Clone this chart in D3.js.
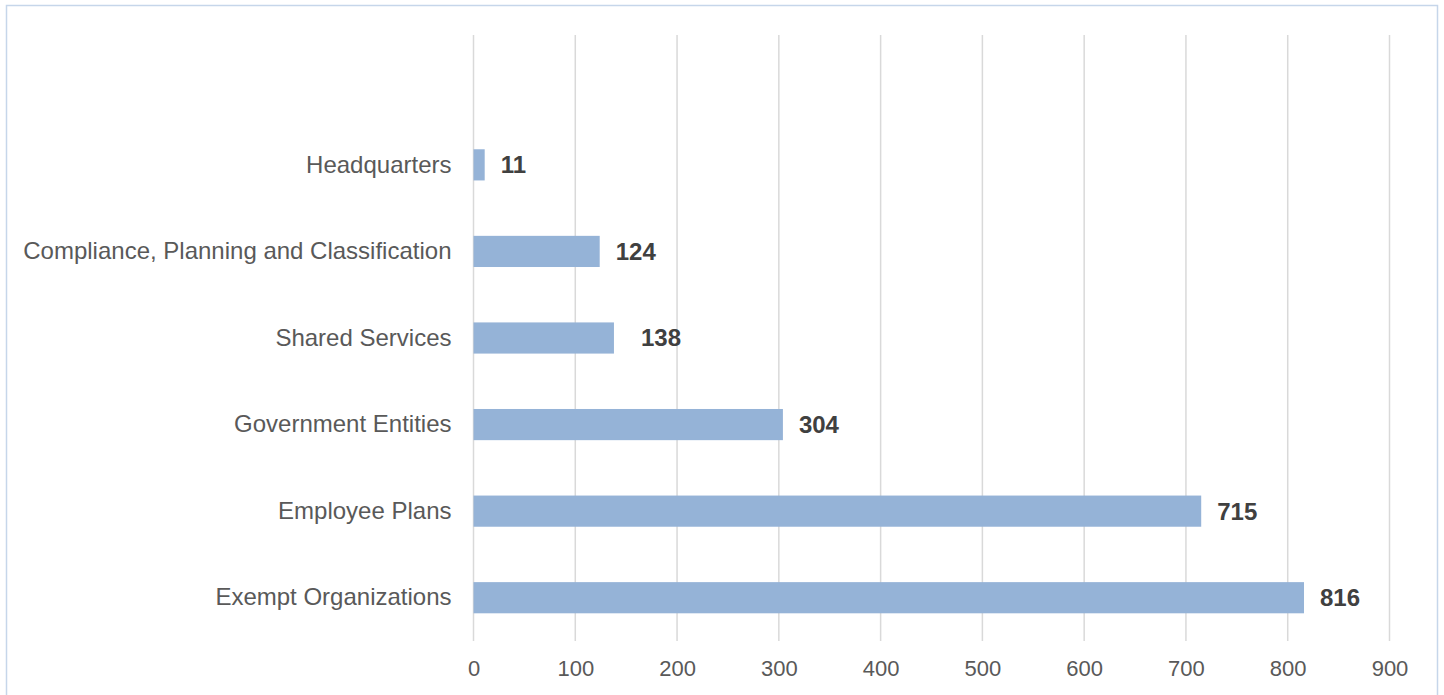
<!DOCTYPE html>
<html>
<head>
<meta charset="utf-8">
<script src="https://cdn.jsdelivr.net/npm/d3@7"></script>
<style>
  html, body { margin: 0; padding: 0; background: #fff; }
  svg { display: block; font-family: "Liberation Sans", Arial, sans-serif; }
</style>
</head>
<body>
<div id="chart"></div>
<script>
// Categories top to bottom and their counts
const categories = [
  'Headquarters',
  'Compliance, Planning and Classification',
  'Shared Services',
  'Government Entities',
  'Employee Plans',
  'Exempt Organizations'
];
const values = [11, 124, 138, 304, 715, 816];
const xTicks = [0, 100, 200, 300, 400, 500, 600, 700, 800, 900];

const width = 1444, height = 695;
const plot = { left: 473.5, right: 1389.5, top: 35, bottom: 641 };

const svg = d3.select('#chart').append('svg')
  .attr('width', width)
  .attr('height', height);

// Outer frame
svg.append('rect')
  .attr('x', 6.5).attr('y', 5.5)
  .attr('width', 1431).attr('height', 700)
  .attr('fill', '#fff')
  .attr('stroke', '#c6d6ea')
  .attr('stroke-width', 1.5);

const x = d3.scaleLinear()
  .domain([0, 900])
  .range([plot.left, plot.right]);

// Seven slots in the plot area, the top one left empty
const slot = (plot.bottom - plot.top) / 7;
const y = d3.scaleBand()
  .domain(categories)
  .range([plot.top + slot, plot.bottom])
  .paddingInner(0.64)
  .paddingOuter(0.32);

// Vertical gridlines
svg.append('g')
  .selectAll('line')
  .data(xTicks)
  .join('line')
  .attr('x1', d => x(d)).attr('x2', d => x(d))
  .attr('y1', plot.top).attr('y2', plot.bottom)
  .attr('stroke', '#d9d9d9')
  .attr('stroke-width', 1.5);

// X axis tick labels
const xAxis = svg.append('g')
  .attr('transform', `translate(0, ${plot.bottom})`)
  .call(d3.axisBottom(x).tickValues(xTicks).tickSize(0).tickPadding(0));
xAxis.select('.domain').remove();
xAxis.selectAll('text')
  .attr('dy', 0)
  .attr('y', 35)
  .attr('fill', '#595959')
  .style('font-size', '22px')
  .style('font-family', '"Liberation Sans", Arial, sans-serif');

// Category labels
const yAxis = svg.append('g')
  .attr('transform', `translate(${plot.left - 22}, 0)`)
  .call(d3.axisLeft(y).tickSize(0).tickPadding(0));
yAxis.select('.domain').remove();
yAxis.selectAll('text')
  .attr('fill', '#595959')
  .style('font-size', '24px')
  .style('font-family', '"Liberation Sans", Arial, sans-serif');

// Bars
svg.append('g')
  .selectAll('rect')
  .data(values)
  .join('rect')
  .attr('x', x(0))
  .attr('y', (d, i) => y(categories[i]))
  .attr('width', d => x(d) - x(0))
  .attr('height', y.bandwidth())
  .attr('fill', '#95b3d7');

// Value labels
svg.append('g')
  .selectAll('text')
  .data(values)
  .join('text')
  .attr('x', d => x(d) + (d === 138 ? 27 : 16))
  .attr('y', (d, i) => y(categories[i]) + y.bandwidth() / 2)
  .attr('dy', '0.35em')
  .attr('fill', '#404040')
  .style('font-size', '24px')
  .style('font-weight', 'bold')
  .text(d => d);
</script>
</body>
</html>
